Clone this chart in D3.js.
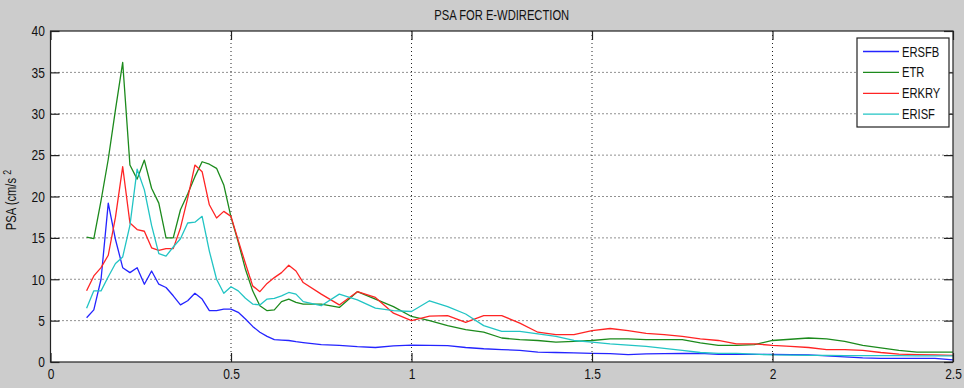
<!DOCTYPE html>
<html>
<head>
<meta charset="utf-8">
<script src="https://cdn.jsdelivr.net/npm/d3@7"></script>
<style>
  html, body { margin: 0; padding: 0; background: #cccccc; }
  svg { display: block; }
  text { font-family: "Liberation Sans", Arial, sans-serif; fill: #111; }
</style>
</head>
<body>
<svg id="chart" width="964" height="388"></svg>
<script>
// Spectral periods (s) shared by all stations
const periods = [
  0.10, 0.12, 0.14, 0.16, 0.18, 0.20, 0.22, 0.24, 0.26, 0.28,
  0.30, 0.32, 0.34, 0.36, 0.38, 0.40, 0.42, 0.44, 0.46, 0.48,
  0.50, 0.52, 0.54, 0.56, 0.58, 0.60, 0.62, 0.64, 0.66, 0.68, 0.70,
  0.75, 0.80, 0.85, 0.90, 0.95, 1.00, 1.05, 1.10, 1.15, 1.20,
  1.25, 1.30, 1.35, 1.40, 1.45, 1.50, 1.55, 1.60, 1.65, 1.70,
  1.75, 1.80, 1.85, 1.90, 1.95, 2.00, 2.05, 2.10, 2.15, 2.20,
  2.25, 2.30, 2.35, 2.40, 2.45, 2.50
];

// Pseudo-spectral acceleration per station (cm/s^2)
const ERSFB = [
  5.35, 6.3, 10.0, 19.2, 14.8, 11.4, 10.8, 11.4, 9.4, 11.0,
  9.4, 9.0, 8.0, 6.9, 7.4, 8.3, 7.6, 6.2, 6.2, 6.4,
  6.4, 6.0, 5.2, 4.3, 3.6, 3.1, 2.7, 2.65, 2.6, 2.45, 2.35,
  2.1, 2.0, 1.85, 1.75, 1.95, 2.05, 2.0, 1.97, 1.75, 1.6,
  1.5, 1.4, 1.2, 1.15, 1.1, 1.05, 1.0, 0.88, 0.97, 1.0,
  1.03, 1.05, 0.93, 0.93, 0.93, 0.93, 0.9, 0.85, 0.75, 0.62,
  0.5, 0.45, 0.45, 0.45, 0.45, 0.25
];
const ETR = [
  15.1, 14.9, 19.5, 24.5, 30.5, 36.2, 23.8, 22.1, 24.4, 21.0,
  19.2, 15.0, 15.0, 18.4, 20.3, 22.4, 24.2, 23.9, 23.4, 21.4,
  17.5, 14.5, 11.2, 8.6, 6.8, 6.2, 6.3, 7.3, 7.6, 7.2, 7.0,
  7.0, 6.6, 8.5, 7.6, 6.7, 5.5, 5.0, 4.4, 3.9, 3.6,
  2.9, 2.7, 2.6, 2.4, 2.5, 2.6, 2.8, 2.8, 2.7, 2.7,
  2.7, 2.3, 2.0, 2.0, 2.1, 2.6, 2.75, 2.9, 2.8, 2.5,
  2.0, 1.7, 1.4, 1.2, 1.2, 1.2
];
const ERKRY = [
  8.6, 10.4, 11.4, 12.9, 17.5, 23.6, 16.8, 16.0, 15.8, 13.8,
  13.5, 13.7, 13.7, 16.2, 19.8, 23.8, 23.0, 19.0, 17.4, 18.2,
  17.6, 14.7, 11.9, 9.2, 8.5, 9.5, 10.2, 10.8, 11.7, 11.0, 9.6,
  8.2, 6.9, 8.5, 7.8, 5.9, 5.0, 5.55, 5.6, 4.8, 5.6,
  5.6, 4.7, 3.6, 3.3, 3.3, 3.8, 4.05, 3.8, 3.45, 3.3,
  3.1, 2.8, 2.6, 2.2, 2.2, 2.0, 1.9, 1.75, 1.5, 1.5,
  1.4, 1.15, 0.95, 0.9, 0.85, 0.8
];
const ERISF = [
  6.5, 8.6, 8.6, 10.3, 11.9, 12.7, 16.5, 23.3, 20.8, 16.5,
  13.1, 12.8, 13.9, 14.9, 16.8, 16.9, 17.6, 13.4, 10.0, 8.3,
  9.1, 8.6, 7.7, 7.0, 6.9, 7.6, 7.7, 8.0, 8.4, 8.2, 7.3,
  6.8, 8.2, 7.5, 6.5, 6.2, 6.1, 7.4, 6.7, 5.8, 4.4,
  3.7, 3.7, 3.4, 3.1, 2.6, 2.4, 2.2, 2.05, 1.9, 1.65,
  1.4, 1.15, 1.05, 1.05, 0.95, 0.85, 0.82, 0.8, 0.8, 0.78,
  0.77, 0.77, 0.76, 0.75, 0.74, 0.73
];

const seriesNames = ["ERSFB", "ETR", "ERKRY", "ERISF"];
const seriesValues = [ERSFB, ETR, ERKRY, ERISF];
const seriesColors = ["#2424ff", "#1c8a1c", "#ff2424", "#22c4c4"];

const xTicks = [0, 0.5, 1, 1.5, 2, 2.5];
const xTickLabels = ["0", "0.5", "1", "1.5", "2", "2.5"];
const yTicks = [0, 5, 10, 15, 20, 25, 30, 35, 40];

const titleText = "PSA FOR E-WDIRECTION";

const svg = d3.select("#chart");
const W = 964, H = 388;
const plot = { left: 50.5, right: 953, top: 31, bottom: 362 };
const narrow = "scale(0.8,1)";   // condensed look for all labels

svg.append("rect").attr("width", W).attr("height", H).attr("fill", "#cccccc");

const x = d3.scaleLinear().domain([0, 2.5]).range([plot.left, plot.right]);
const y = d3.scaleLinear().domain([0, 40]).range([plot.bottom, plot.top]);

// Axes area
svg.append("rect")
  .attr("x", plot.left).attr("y", plot.top)
  .attr("width", plot.right - plot.left).attr("height", plot.bottom - plot.top)
  .attr("fill", "#ffffff");

// Dotted grid
const grid = svg.append("g").attr("stroke", "#222").attr("stroke-width", 1)
  .attr("stroke-dasharray", "1,3");
grid.selectAll("line.gx").data(xTicks.slice(1, -1)).join("line")
  .attr("x1", d => x(d)).attr("x2", d => x(d))
  .attr("y1", plot.top).attr("y2", plot.bottom);
grid.selectAll("line.gy").data(yTicks.slice(1, -1)).join("line")
  .attr("x1", plot.left).attr("x2", plot.right)
  .attr("y1", d => y(d)).attr("y2", d => y(d));

// Response spectra
const line = d3.line()
  .x((d, i) => x(periods[i]))
  .y(d => y(d));
svg.append("g").selectAll("path").data(seriesValues).join("path")
  .attr("d", d => line(d))
  .attr("fill", "none")
  .attr("stroke", (d, i) => seriesColors[i])
  .attr("stroke-width", 1.3)
  .attr("stroke-linejoin", "round");

// Axes with inward ticks on all four sides
const tick = 9;
const styleAxis = g => {
  g.select(".domain").remove();
  g.selectAll(".tick line").attr("stroke", "#222").attr("stroke-width", 1.2);
  g.selectAll(".tick text").attr("font-size", 15).attr("fill", "#111")
    .attr("transform", narrow)
    .style("font-family", "\"Liberation Sans\", Arial, sans-serif");
};
svg.append("g").attr("transform", `translate(0,${plot.bottom})`)
  .call(d3.axisBottom(x).tickValues(xTicks).tickFormat((d, i) => xTickLabels[i])
    .tickSizeInner(-tick).tickSizeOuter(0).tickPadding(6))
  .call(styleAxis);
svg.append("g").attr("transform", `translate(0,${plot.top})`)
  .call(d3.axisTop(x).tickValues(xTicks).tickFormat("")
    .tickSizeInner(-tick).tickSizeOuter(0))
  .call(styleAxis);
svg.append("g").attr("transform", `translate(${plot.left},0)`)
  .call(d3.axisLeft(y).tickValues(yTicks).tickFormat(d3.format("d"))
    .tickSizeInner(-tick).tickSizeOuter(0).tickPadding(7))
  .call(styleAxis);
svg.append("g").attr("transform", `translate(${plot.right},0)`)
  .call(d3.axisRight(y).tickValues(yTicks).tickFormat("")
    .tickSizeInner(-tick).tickSizeOuter(0))
  .call(styleAxis);

// Axes box
svg.append("rect")
  .attr("x", plot.left).attr("y", plot.top)
  .attr("width", plot.right - plot.left).attr("height", plot.bottom - plot.top)
  .attr("fill", "none").attr("stroke", "#222").attr("stroke-width", 1.2);

// Title
svg.append("g")
  .attr("transform", `translate(${(plot.left + plot.right) / 2},20) ${narrow}`)
  .append("text")
  .attr("text-anchor", "middle").attr("font-size", 14)
  .text(titleText);

// Y-axis label
const yl = svg.append("text")
  .attr("transform", "translate(16,200) rotate(-90) " + narrow)
  .attr("text-anchor", "middle").attr("font-size", 14);
yl.append("tspan").text("PSA (cm/s");
yl.append("tspan").attr("dy", -5).attr("dx", 4).attr("font-size", 11).text("2");

// Legend
const lg = { x: 857, y: 38, w: 92, h: 89 };
const legend = svg.append("g");
legend.append("rect")
  .attr("x", lg.x).attr("y", lg.y).attr("width", lg.w).attr("height", lg.h)
  .attr("fill", "#ffffff").attr("stroke", "#222").attr("stroke-width", 1.2);
const items = legend.selectAll("g.item").data(seriesNames).join("g")
  .attr("transform", (d, i) => `translate(${lg.x},${lg.y + 13.5 + i * 20.9})`);
items.append("line")
  .attr("x1", 6).attr("x2", 42).attr("y1", 0).attr("y2", 0)
  .attr("stroke", (d, i) => seriesColors[i]).attr("stroke-width", 1.3);
items.append("text")
  .attr("transform", `translate(45,0) ${narrow}`)
  .attr("dy", "0.36em").attr("font-size", 14)
  .text(d => d);
</script>
</body>
</html>
